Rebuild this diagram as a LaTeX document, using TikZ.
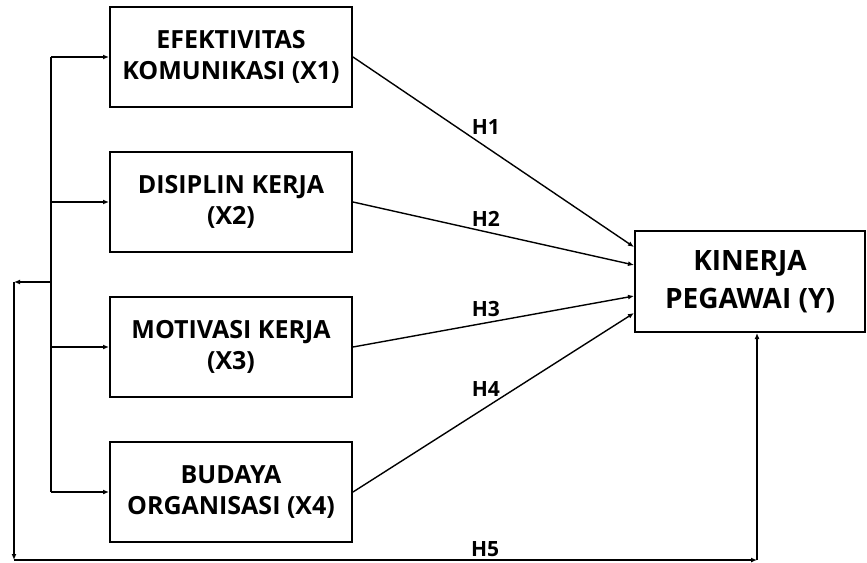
\documentclass[tikz,border=0pt]{standalone}
\usepackage{fontspec}
\setmainfont{Open Sans}
\usetikzlibrary{arrows.meta}
\tikzset{
  varbox/.style={draw, line width=2pt, minimum width=242pt, minimum height=100pt,
    align=center, inner sep=0pt, font=\fontsize{25}{31}\selectfont\bfseries},
  link/.style={line width=1.4pt, -{Latex[length=6pt,width=5pt]}},
  hyp/.style={font=\fontsize{21}{24}\selectfont\bfseries, inner sep=1pt}
}
\begin{document}
\begin{tikzpicture}[x=1pt, y=-1pt]
	\useasboundingbox (0,0) rectangle (867,562);
	% independent variables
	\node[varbox] (x1) at (231,57) {EFEKTIVITAS\\KOMUNIKASI (X1)};
	\node[varbox] (x2) at (231,202) {DISIPLIN KERJA\\(X2)};
	\node[varbox] (x3) at (231,347) {MOTIVASI KERJA\\(X3)};
	\node[varbox] (x4) at (231,492) {BUDAYA\\ORGANISASI (X4)};
	% dependent variable
	\node[varbox, minimum width=230pt, minimum height=101pt,
		font=\fontsize{28}{38}\selectfont\bfseries] (y) at (750,281.5) {KINERJA\\PEGAWAI (Y)};
	% bus on the left
	\coordinate (bus) at (51,282);
	\coordinate (fb) at (14,282);
	\coordinate (fbdown) at (14,560);
	\coordinate (h5end) at (757,560);
	\draw[line width=1.4pt] (bus |- x1.west) -- (bus |- x4.west);
	\foreach \v in {x1,x2,x3,x4}
		\draw[link] (bus |- \v.west) -- (\v.west);
	% paths to Y
	\draw[link] (x1.east) -- (y.west |- 0,247) node[hyp, pos=0.473, above=11pt] {H1};
	\draw[link] (x2.east) -- (y.west |- 0,265) node[hyp, pos=0.473, above=4pt] {H2};
	\draw[link] (x3.east) -- (y.west |- 0,296) node[hyp, pos=0.473, above=4pt] {H3};
	\draw[link] (x4.east) -- (y.west |- 0,313) node[hyp, pos=0.473, above=9pt] {H4};
	% simultaneous path
	\draw[link] (bus) -- (fb);
	\draw[link] (fb) -- (fbdown);
	\draw[link] (fbdown) -- (h5end) node[hyp, pos=0.634, above=2pt] {H5};
	\draw[link] (h5end) -- (h5end |- y.south);
\end{tikzpicture}
\end{document}
